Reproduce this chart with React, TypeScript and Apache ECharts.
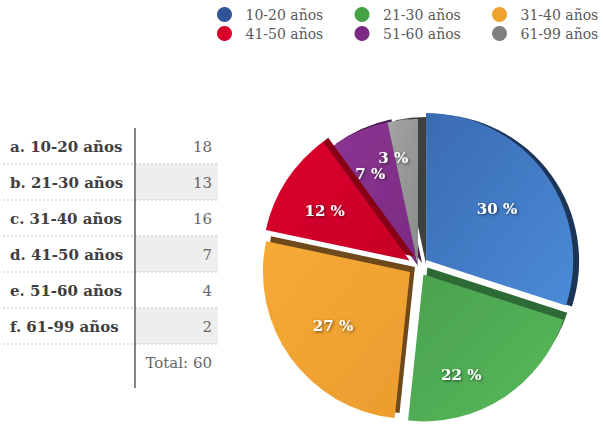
import React, { useEffect, useRef } from "react";
import * as echarts from "echarts";

const categories = ["10-20 años", "21-30 años", "31-40 años", "41-50 años", "51-60 años", "61-99 años"];
const rowLetters = ["a", "b", "c", "d", "e", "f"];
const counts = [18, 13, 16, 7, 4, 2];
const exploded = [true, true, true, true, false, false];

const legendColors = ["#2f5597", "#45a347", "#f0a22e", "#d6002b", "#7b2a85", "#7f8181"];
const faceFrom = ["#3a6bb2", "#4aa24e", "#f6aa36", "#da002c", "#8c3592", "#a2a4a4"];
const faceTo = ["#4b8bd8", "#57b85b", "#eb9c2e", "#c80027", "#7a2a83", "#8a8c8c"];
const sideColors = ["#1d3457", "#2f6a34", "#6e4a1d", "#870019", "#4a1850", "#3e3f3f"];
// extrusion (side face) offsets, styling only
const sideOffsets = [
  [6, 1],
  [4, -7],
  [5, -5],
  [5, -4],
  [4, -3],
  [8, -2],
];
// small label nudges, styling only
const labelNudge = [
  [-12, 9],
  [-18, 15],
  [6, -6],
  [1, 6],
  [-6, 2],
  [-14, -6],
];

const FONT = "'DejaVu Serif', serif";
const CX = 418;
const CY = 266;
const R = 147;

export default function App() {
  const ref = useRef<HTMLDivElement>(null);
  useEffect(() => {
    if (!ref.current) return;
    const chart = echarts.init(ref.current, undefined, { renderer: "svg" });
    const total = counts.reduce((a, b) => a + b, 0);

    const pieData = counts.map((v, i) => ({
      name: categories[i],
      value: v,
      selected: exploded[i],
      itemStyle: {
        color: new echarts.graphic.LinearGradient(0, 0, 1, 1, [
          { offset: 0, color: faceFrom[i] },
          { offset: 1, color: faceTo[i] },
        ]),
        shadowColor: sideColors[i],
        shadowBlur: 0,
        shadowOffsetX: sideOffsets[i][0],
        shadowOffsetY: sideOffsets[i][1],
      },
    }));

    const graphics: any[] = [];
    const rowTop = 128;
    const rowH = 36;
    counts.forEach((v, i) => {
      if (i % 2 === 1) {
        graphics.push({
          type: "rect",
          shape: { x: 136, y: rowTop + rowH * i, width: 82, height: rowH },
          style: { fill: "#eeeeee" },
          z: 1,
        });
      }
      graphics.push({
        type: "line",
        shape: { x1: 3, y1: rowTop + rowH * (i + 1), x2: 218, y2: rowTop + rowH * (i + 1) },
        style: { stroke: "#c4c4c4", lineWidth: 1, lineDash: [2, 2] },
        z: 2,
      });
      graphics.push({
        type: "text",
        x: 10,
        y: rowTop + rowH * i + 19,
        style: {
          text: `${rowLetters[i]}. ${categories[i]}`,
          font: `bold 15px ${FONT}`,
          fill: "#3f3f3f",
          textAlign: "left",
          textVerticalAlign: "middle",
        },
        z: 3,
      });
      graphics.push({
        type: "text",
        x: 212,
        y: rowTop + rowH * i + 19,
        style: {
          text: String(v),
          font: `15px ${FONT}`,
          fill: "#666666",
          textAlign: "right",
          textVerticalAlign: "middle",
        },
        z: 3,
      });
    });
    graphics.push({
      type: "text",
      x: 212,
      y: rowTop + rowH * 6 + 19,
      style: {
        text: `Total: ${total}`,
        font: `15px ${FONT}`,
        fill: "#666666",
        textAlign: "right",
        textVerticalAlign: "middle",
      },
      z: 3,
    });
    graphics.push({
      type: "line",
      shape: { x1: 135, y1: 128, x2: 135, y2: 388 },
      style: { stroke: "#5a5a5a", lineWidth: 1.5 },
      z: 4,
    });

    const legendBase = {
      orient: "horizontal",
      padding: 0,
      itemWidth: 32,
      itemHeight: 15,
      itemGap: 29,
      icon: "circle",
      selectedMode: false,
      textStyle: {
        fontFamily: FONT,
        fontSize: 14,
        color: "#5a5a5a",
        width: 80,
        lineHeight: 15,
      },
    };

    chart.setOption({
      animation: false,
      backgroundColor: "#ffffff",
      legend: [
        {
          ...legendBase,
          left: 217,
          top: 7,
          data: categories.slice(0, 3).map((n, k) => ({ name: n, itemStyle: { color: legendColors[k], shadowBlur: 0, shadowOffsetX: 0, shadowOffsetY: 0 } })),
        },
        {
          ...legendBase,
          left: 217,
          top: 26,
          data: categories.slice(3).map((n, k) => ({ name: n, itemStyle: { color: legendColors[k + 3], shadowBlur: 0, shadowOffsetX: 0, shadowOffsetY: 0 } })),
        },
      ],
      graphic: graphics,
      series: [
        {
          type: "pie",
          center: [CX, CY],
          radius: R,
          startAngle: 90,
          clockwise: true,
          selectedMode: "multiple",
          selectedOffset: 10,
          avoidLabelOverlap: false,
          silent: true,
          label: {
            show: true,
            position: "inside",
            color: "#ffffff",
            fontFamily: FONT,
            fontSize: 15,
            fontWeight: "bold",
            textShadowColor: "rgba(0,0,0,0.6)",
            textShadowBlur: 3,
            textShadowOffsetX: 1,
            textShadowOffsetY: 1,
            formatter: (p: any) => `${Math.round((p.value / total) * 100)} %`,
          },
          labelLine: { show: false },
          labelLayout: (p: any) => {
            const r = p.labelRect;
            const x = r.x + r.width / 2;
            const y = r.y + r.height / 2;
            const vx = x - CX;
            const vy = y - CY;
            const len = Math.hypot(vx, vy) || 1;
            const push = 26;
            const n = labelNudge[p.dataIndex] || [0, 0];
            return { dx: (vx / len) * push + n[0], dy: (vy / len) * push + n[1] };
          },
          data: pieData,
        },
      ],
    });
    return () => chart.dispose();
  }, []);
  return (
    <div
      ref={ref}
      style={{ position: "absolute", left: 0, top: 0, width: 603, height: 427 }}
    />
  );
}
